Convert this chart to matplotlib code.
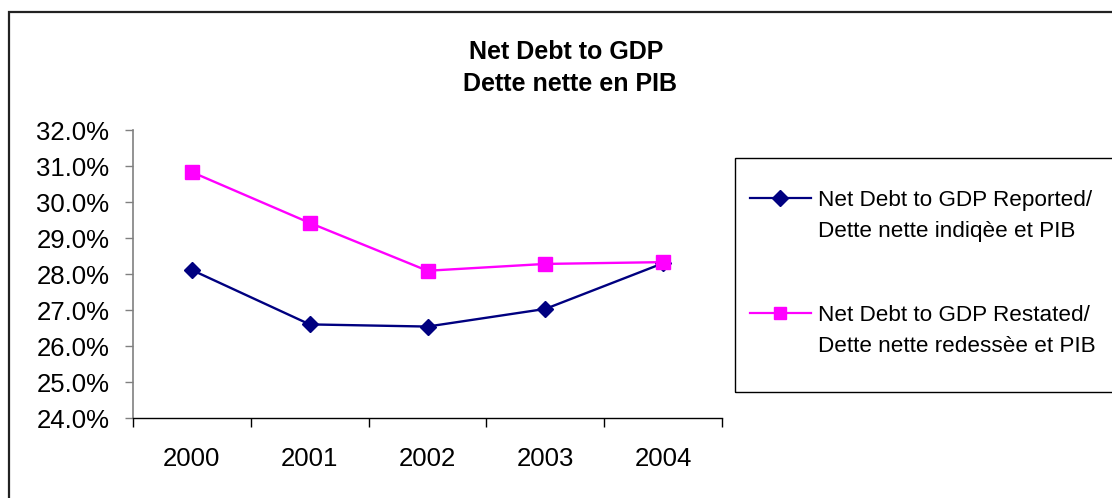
import matplotlib
matplotlib.use("Agg")
import matplotlib.pyplot as plt
from matplotlib.lines import Line2D
from matplotlib.patches import Rectangle
from matplotlib.ticker import FixedLocator, FuncFormatter

plt.rcParams['font.family'] = ['Liberation Sans', 'DejaVu Sans']

years = ["2000", "2001", "2002", "2003", "2004"]
reported = [28.11, 26.60, 26.54, 27.03, 28.30]
restated = [30.83, 29.42, 28.09, 28.28, 28.33]
label_reported = ["Net Debt to GDP Reported/", "Dette nette indiqèe et PIB"]
label_restated = ["Net Debt to GDP Restated/", "Dette nette redessèe et PIB"]
title_lines = ["Net Debt to GDP", "Dette nette en PIB"]

W, H = 1112, 498
fig = plt.figure(figsize=(W / 100, H / 100), dpi=100)
fig.patch.set_facecolor("white")

# axes placement (pixels)
left, right, top, bottom = 133, 722, 130, 418
ax = fig.add_axes([left / W, 1 - bottom / H, (right - left) / W, (bottom - top) / H])

x = list(range(len(years)))
blue = "#000080"
pink = "#FF00FF"
ax.plot(x, reported, color=blue, lw=1.7, marker="D", ms=8.5, mec=blue, mfc=blue, zorder=3)
ax.plot(x, restated, color=pink, lw=1.7, marker="s", ms=9.5, mec=pink, mfc=pink, zorder=3)

ax.set_xlim(-0.5, len(years) - 0.5)
ax.set_ylim(24, 32)
ax.yaxis.set_major_locator(FixedLocator([24 + i for i in range(9)]))
ax.yaxis.set_major_formatter(FuncFormatter(lambda v, p: f"{v:.1f}%"))
ax.xaxis.set_major_locator(FixedLocator([i - 0.5 for i in range(len(years) + 1)]))
ax.xaxis.set_major_formatter(FuncFormatter(lambda v, p: ""))
ax.xaxis.set_minor_locator(FixedLocator(x))
ax.set_xticklabels(years, minor=True)

ax.tick_params(axis="y", direction="out", length=6, width=1, color="#808080",
               labelsize=18.5, pad=11)
ax.tick_params(axis="x", which="major", direction="out", length=6.5, width=1, color="black")
ax.tick_params(axis="x", which="minor", length=0, labelsize=18.5, pad=21)

for s in ["top", "right"]:
    ax.spines[s].set_visible(False)
ax.spines["left"].set_color("#808080")
ax.spines["left"].set_linewidth(1.2)
ax.spines["bottom"].set_color("black")
ax.spines["bottom"].set_linewidth(1)

# title
fig.text(566 / W, 1 - 52 / H, title_lines[0], ha="center", va="center",
         fontsize=18, fontweight="bold")
fig.text(570 / W, 1 - 84 / H, title_lines[1], ha="center", va="center",
         fontsize=18, fontweight="bold")

# outer frame (cropped chart border)
fig.add_artist(Rectangle((9 / W, -0.2), 1.2, 1.2 - 11.5 / H, transform=fig.transFigure,
                         fill=False, edgecolor="#222222", lw=1.6))

# legend box
fig.add_artist(Rectangle((735 / W, 1 - 392 / H), 400 / W, (392 - 158) / H,
                         transform=fig.transFigure, fill=False, edgecolor="black", lw=1))

h_rep = Line2D([], [], color=blue, lw=1.6, marker="D", ms=8, mfc=blue, mec=blue)
h_res = Line2D([], [], color=pink, lw=1.6, marker="s", ms=8.5, mfc=pink, mec=pink)
blank = Line2D([], [], linestyle="none")

common = dict(frameon=False, fontsize=16.2, handlelength=2.7, handletextpad=0.33,
              labelspacing=0.45, borderpad=0, borderaxespad=0, loc="upper left")
leg1 = fig.legend([h_rep, blank], label_reported,
                  bbox_to_anchor=(750 / W, 1 - 190 / H), **common)
leg2 = fig.legend([h_res, blank], label_restated,
                  bbox_to_anchor=(750 / W, 1 - 305 / H), **common)

fig.savefig("out.png", dpi=100)
